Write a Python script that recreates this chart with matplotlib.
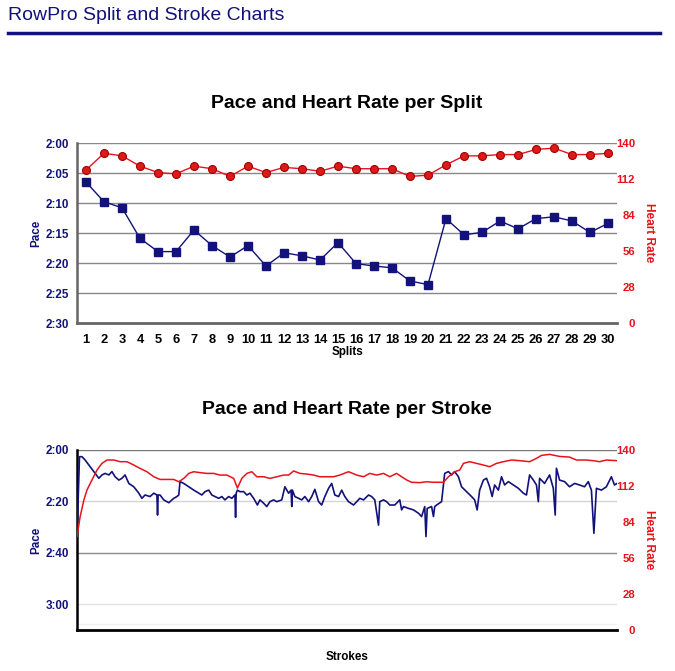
import matplotlib
matplotlib.use("Agg")
import matplotlib.pyplot as plt

plt.rcParams['font.family'] = ['Liberation Sans', 'DejaVu Sans']

NAVY = '#12127a'
RED = '#e8121c'

# ---------------- Split data ----------------
splits = list(range(1, 31))
split_pace_secs = [6.5, 9.8, 10.8, 15.9, 18.1, 18.1, 14.5, 17.1, 19.0, 17.1,
                   20.5, 18.3, 18.8, 19.5, 16.6, 20.1, 20.5, 20.8, 23.0, 23.6,
                   12.6, 15.3, 14.9, 13.0, 14.3, 12.6, 12.3, 13.0, 14.9, 13.4]
split_hr = [119, 132, 130, 122, 117, 116, 122, 120, 114, 122,
            117, 121, 120, 118, 122, 120, 120, 120, 114, 115,
            123, 130, 130, 131, 131, 135, 136, 131, 131, 132]
split_pace_ticks = [0, 5, 10, 15, 20, 25, 30]
split_pace_labels = ['2:00', '2:05', '2:10', '2:15', '2:20', '2:25', '2:30']
hr_ticks = [0, 28, 56, 84, 112, 140]

# ---------------- Stroke data ----------------
pace_strokes = [0, 4, 8, 13, 21, 29, 35, 40, 45, 51, 56, 61, 67, 72, 77, 83, 91, 99, 104, 109,
                117, 123, 128, 129, 130, 133, 139, 147, 155, 160, 163, 165, 171, 179, 187, 195, 200, 205, 211, 216,
                221, 227, 232, 237, 243, 248, 253, 254, 255, 257, 261, 267, 272, 277, 283, 289, 293, 299, 304, 309,
                315, 320, 328, 333, 339, 343, 344, 345, 349, 355, 360, 365, 371, 376, 381, 387, 392, 397, 403, 408,
                413, 419, 424, 429, 435, 443, 448, 453, 459, 467, 472, 477, 483, 485, 491, 496, 501, 509, 517, 520,
                523, 531, 539, 547, 552, 557, 559, 561, 568, 571, 573, 576, 584, 589, 595, 600, 605, 611, 616, 624,
                632, 637, 641, 645, 651, 656, 661, 665, 669, 675, 680, 685, 691, 699, 707, 715, 720, 725, 731, 736,
                739, 741, 749, 757, 763, 766, 768, 773, 781, 789, 797, 805, 813, 819, 824, 828, 832, 840, 848, 856,
                861, 865]
pace_secs = [33.7, 2.6, 2.6, 3.9, 6.5, 9.1, 11.0, 9.7, 9.1, 9.7, 8.4, 10.4, 11.7, 11.0, 9.7, 13.0, 14.3, 16.8, 18.8, 17.5,
             18.1, 16.8, 17.5, 25.3, 17.5, 17.5, 19.4, 20.5, 18.8, 18.1, 17.5, 12.3, 13.0, 14.3, 15.6, 16.8, 17.5, 16.2, 15.6, 17.5,
             18.1, 18.8, 18.1, 19.4, 18.1, 18.8, 17.5, 26.2, 16.8, 15.6, 16.2, 16.2, 17.5, 16.8, 18.8, 21.4, 19.4, 20.7, 22.0, 20.1,
             19.4, 20.1, 19.4, 14.3, 16.8, 15.6, 22.0, 15.6, 18.1, 18.8, 19.4, 18.1, 20.1, 18.1, 15.3, 20.1, 21.4, 18.1, 14.9, 13.0,
             17.5, 18.1, 15.6, 18.1, 20.1, 21.4, 20.1, 18.8, 19.4, 17.5, 18.1, 19.4, 29.2, 20.1, 19.4, 20.1, 21.4, 21.4, 19.4, 23.3,
             22.0, 22.7, 23.3, 24.6, 25.9, 22.0, 33.7, 22.7, 22.0, 25.9, 22.0, 21.4, 20.1, 9.1, 8.4, 9.7, 8.4, 10.4, 14.3, 16.2,
             18.1, 19.4, 23.3, 15.6, 11.7, 11.0, 14.3, 18.1, 13.6, 15.6, 10.4, 13.6, 12.3, 13.6, 14.9, 16.8, 17.5, 9.7, 11.7, 13.6,
             20.1, 11.0, 13.0, 9.7, 14.9, 25.3, 7.1, 11.7, 12.3, 14.3, 13.0, 13.6, 14.3, 12.3, 15.6, 32.4, 14.9, 15.6, 14.3, 10.4,
             13.6, 13.0]
hr_strokes = [0, 5, 11, 16, 24, 32, 40, 48, 59, 69, 80, 91, 101, 112, 123, 133, 144, 155, 163, 171,
              179, 187, 197, 208, 219, 229, 240, 251, 257, 264, 272, 280, 288, 299, 309, 320, 331, 339, 347, 357,
              368, 379, 389, 400, 411, 421, 435, 448, 459, 469, 480, 491, 501, 512, 520, 528, 536, 549, 560, 571,
              587, 595, 605, 613, 619, 629, 640, 651, 661, 672, 683, 696, 709, 725, 736, 744, 757, 773, 789, 800,
              816, 827, 837, 848, 865]
hr_values = [72.6, 88.1, 101.1, 108.9, 116.7, 124.4, 129.6, 132.2, 132.2, 130.9, 130.9, 128.3, 125.7, 123.1, 119.2, 117.1, 117.1, 117.1, 115.3, 117.9,
             121.8, 123.1, 122.4, 121.8, 121.8, 120.5, 120.5, 117.9, 110.4, 117.9, 121.8, 123.1, 119.2, 119.2, 117.9, 119.2, 120.5, 120.5, 123.7, 121.8,
             121.3, 120.5, 119.2, 119.2, 119.2, 120.5, 123.1, 120.5, 119.2, 121.8, 120.5, 121.8, 119.2, 121.8, 119.2, 116.7, 114.9, 114.6, 115.3, 114.9,
             114.9, 119.2, 123.1, 124.4, 129.6, 130.9, 129.6, 128.3, 127.0, 129.6, 130.9, 132.2, 131.7, 130.9, 133.5, 135.8, 136.6, 135.0, 134.5, 132.2,
             132.2, 131.7, 130.9, 132.2, 131.7]
stroke_pace_ticks = [0, 20, 40, 60]
stroke_pace_labels = ['2:00', '2:20', '2:40', '3:00']

fig = plt.figure(figsize=(6.75, 6.71), dpi=100)

# header
fig.text(8 / 675, 1 - 16 / 671, 'RowPro Split and Stroke Charts', fontsize=14, color=NAVY,
         ha='left', va='center')
fig.add_artist(plt.Line2D([8 / 675, 660 / 675], [1 - 33 / 671, 1 - 33 / 671], color=NAVY, lw=2.5))


def style_axes(ax, ax2, yticks, ylabels, ymax, grid_colors, spine_color):
    ax.set_ylim(ymax, 0)
    ax.set_yticks(yticks)
    ax.set_yticklabels(ylabels)
    ax.tick_params(axis='y', length=0, pad=6, labelsize=8.4, labelcolor=NAVY)
    for lab in ax.get_yticklabels():
        lab.set_fontweight('bold')
    for t, c in zip(yticks, grid_colors):
        if c is not None:
            ax.axhline(t, color=c, lw=1, zorder=0)
    for s in ['top', 'right']:
        ax.spines[s].set_visible(False)
    ax.spines['left'].set_color(spine_color)
    ax.spines['bottom'].set_color(spine_color)
    ax.spines['left'].set_linewidth(1.8)
    ax.spines['bottom'].set_linewidth(2)
    ax.set_ylabel('Pace', color=NAVY, fontsize=8.4, fontweight='bold', labelpad=2)

    ax2.set_ylim(0, 140)
    ax2.set_yticks(hr_ticks)
    ax2.tick_params(axis='y', length=0, pad=13, labelsize=8.2, labelcolor=RED)
    for lab in ax2.get_yticklabels():
        lab.set_fontweight('bold')
        lab.set_horizontalalignment('right')
    for s in ['top', 'right', 'left', 'bottom']:
        ax2.spines[s].set_visible(False)
    ax2.set_ylabel('Heart Rate', color=RED, fontsize=8.6, fontweight='bold', rotation=-90, labelpad=14)


# ---------------- Top chart ----------------
ax1 = fig.add_axes([77 / 675, 1 - 323 / 671, 540 / 675, 180 / 671])
ax1b = ax1.twinx()
ax1.set_xlim(0.5, 30.5)
ax1.set_xticks(splits)
ax1.tick_params(axis='x', length=0, pad=8, labelsize=9.3)
for lab in ax1.get_xticklabels():
    lab.set_fontweight('bold')
ax1.set_xlabel('Splits', fontsize=8.4, fontweight='bold', labelpad=0)
style_axes(ax1, ax1b, split_pace_ticks, split_pace_labels, 30,
           ['#888888'] * 6 + [None], '#666666')
ax1.plot(splits, split_pace_secs, color=NAVY, lw=1, marker='s', markersize=5.5,
         markerfacecolor=NAVY, markeredgecolor=NAVY, zorder=3)
ax1b.plot(splits, split_hr, color=RED, lw=1, marker='o', markersize=5.7,
          markerfacecolor='#dd1a1a', markeredgecolor='#a00000', markeredgewidth=0.8, zorder=3)
ax1.set_title('Pace and Heart Rate per Split', fontsize=14, fontweight='bold', pad=25)

# ---------------- Bottom chart ----------------
ax2 = fig.add_axes([77 / 675, 1 - 630 / 671, 540 / 675, 180 / 671])
ax2b = ax2.twinx()
ax2.set_xlim(0, 865)
ax2.set_xticks([])
ax2.set_xlabel('Strokes', fontsize=8.4, fontweight='bold', labelpad=15)
style_axes(ax2, ax2b, stroke_pace_ticks, stroke_pace_labels, 70,
           ['#777777', '#d4d4d4', '#8a8a8a', '#e2e2e2'], '#000000')
ax2.axhline(67.7, color='#f0f0f0', lw=1, zorder=0)
ax2.plot(pace_strokes, pace_secs, color=NAVY, lw=1.2, zorder=3)
ax2b.plot(hr_strokes, hr_values, color=RED, lw=1.1, zorder=2)
ax2.set_title('Pace and Heart Rate per Stroke', fontsize=14, fontweight='bold', pad=26)

fig.savefig('out.png', dpi=100)
